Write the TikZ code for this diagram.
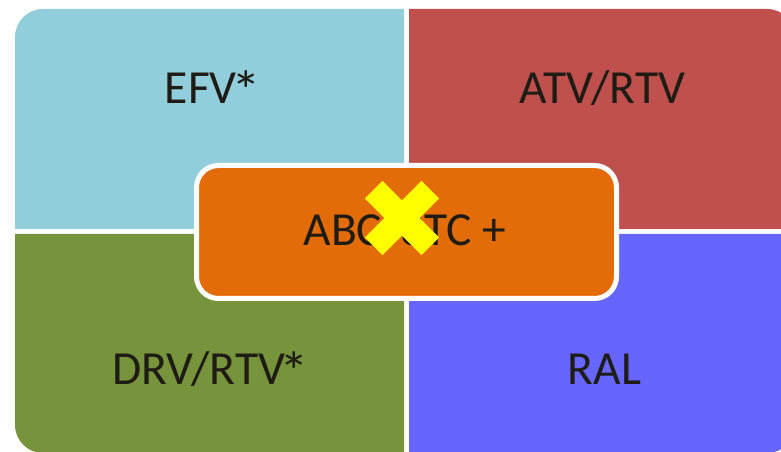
\documentclass[tikz,border=0pt]{standalone}
\usepackage{fontspec}
\setmainfont{Carlito}
\definecolor{qblue}{HTML}{92CDDC}
\definecolor{qred}{HTML}{C0504D}
\definecolor{qgreen}{HTML}{77933C}
\definecolor{qviolet}{HTML}{6666FF}
\definecolor{corefill}{HTML}{E36C09}
\definecolor{ink}{HTML}{1E1C14}
\definecolor{crossyellow}{RGB}{255,255,0}
% a slightly wider, lower asterisk, set close to the preceding letter
\newcommand\starmark{\kern-0.11em\raisebox{-0.12em}{\scalebox{1.25}[1.15]{*}}}
\begin{document}
\begin{tikzpicture}[x=1pt,y=1pt,
  label/.style={text=ink,font=\fontsize{47.5}{56}\selectfont,anchor=base,inner sep=0pt},
  crossbar/.style={fill=crossyellow,minimum width=80pt,minimum height=25pt,inner sep=0pt,draw=none}]
\useasboundingbox (0,0) rectangle (781,452);
\clip (0,0) rectangle (781,452);
% four quadrants, each with its outer corner rounded
\fill[qblue] (404,223) -- (15,223) -- (15,415) arc[start angle=180,end angle=90,radius=28pt] -- (404,443) -- cycle;
\fill[qred] (409,223) -- (409,443) -- (767,443) arc[start angle=90,end angle=0,radius=28pt] -- (795,223) -- cycle;
\fill[qgreen] (404,218) -- (15,218) -- (15,27) arc[start angle=180,end angle=270,radius=28pt] -- (404,-1) -- cycle;
\fill[qviolet] (409,218) -- (409,-1) -- (767,-1) arc[start angle=270,end angle=360,radius=28pt] -- (795,218) -- cycle;
% quadrant labels
\node[label] (efv) at (213,348.5) {EFV\starmark};
\node[label] (atv) at (602.5,348.5) {ATV/RTV};
\node[label] (drv) at (211,67) {DRV/RTV\starmark};
\node[label] (ral) at (604.5,67) {RAL};
% central box
\node[draw=white,line width=5pt,fill=corefill,rounded corners=22pt,
      minimum width=420pt,minimum height=133pt,inner sep=0pt] (core) at (406.5,220) {};
\node[label] (abc) at (405,206) {ABC/3TC +};
% yellow cross over the central text
\node[crossbar,rotate=45] (crossa) at (402,234) {};
\node[crossbar,rotate=-45] (crossb) at (402,234) {};
\end{tikzpicture}
\end{document}
